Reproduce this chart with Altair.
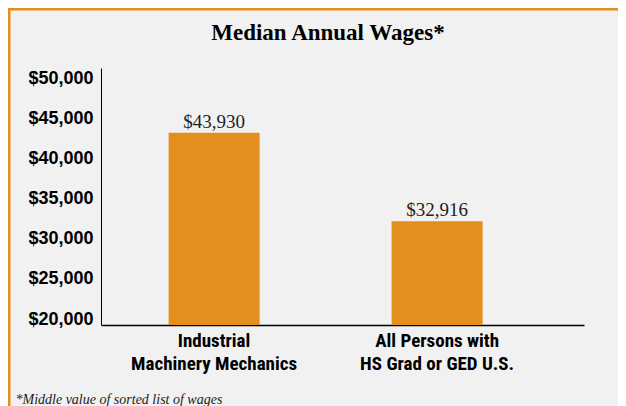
import altair as alt
import pandas as pd

title_text = ["Median Annual Wages*"]
categories = ["Industrial\nMachinery Mechanics", "All Persons with\nHS Grad or GED U.S."]
wages = [43930, 32916]
y_ticks = [20000, 25000, 30000, 35000, 40000, 45000, 50000]

df = pd.DataFrame({"category": categories, "wage": wages})

ORANGE = "#e38e1d"
BG = "#f1f1f1"
SERIF = "Liberation Serif"
NARROW = "Liberation Sans Narrow, Arial Narrow, Roboto Condensed, Liberation Sans, sans-serif"
SANS = "Liberation Sans, Arial, sans-serif"

x = alt.X(
    "category:N",
    sort=categories,
    scale=alt.Scale(paddingInner=0.592, paddingOuter=0.379, align=0.4),
    axis=alt.Axis(
        title="*Middle value of sorted list of wages",
        labelExpr="split(datum.label, '\\n')",
        labelAngle=0,
        ticks=False,
        labelFont=NARROW,
        labelFontSize=19,
        labelFontWeight="bold",
        labelLineHeight=23,
        labelPadding=6,
        labelColor="black",
        domainColor="black",
        domainWidth=1.5,
        titleFont=SERIF,
        titleFontStyle="italic",
        titleFontWeight="normal",
        titleFontSize=14,
        titleAnchor="start",
        titleAlign="left",
        titleX=-86,
        titleY=78,
        titleBaseline="alphabetic",
        titleColor="#222222",
    ),
)

y = alt.Y(
    "wage:Q",
    scale=alt.Scale(domain=[20000, 52000], nice=False, zero=False),
    axis=alt.Axis(
        values=y_ticks,
        format="$,d",
        title=None,
        ticks=False,
        grid=False,
        labelFont=SANS,
        labelFontWeight="bold",
        labelFontSize=18,
        labelColor="black",
        labelPadding=8,
        labelOffset=-6,
        domainColor="black",
        domainWidth=1,
    ),
)

base = alt.Chart(df)
bars = base.mark_bar(color=ORANGE, clip=True).encode(x=x, y=y)
labels = base.mark_text(
    baseline="alphabetic", dy=-5, font=SERIF, fontSize=19, color="#222222"
).encode(x=x, y=y, text=alt.Text("wage:Q", format="$,d"))

title = alt.Chart(pd.DataFrame({"t": title_text})).mark_text(
    font=SERIF, fontSize=23, fontWeight="bold", color="black",
    align="center", baseline="alphabetic",
).encode(x=alt.value(227), y=alt.value(-28), text="t:N")

frame = alt.Data(values=[{}])
left_border = alt.Chart(frame).mark_rule(color=ORANGE, strokeWidth=2.5).encode(
    x=alt.value(-91.75), y=alt.value(-60), y2=alt.value(338)
)
top_border = alt.Chart(frame).mark_rule(color=ORANGE, strokeWidth=2.5).encode(
    x=alt.value(-93), x2=alt.value(517), y=alt.value(-58.75)
)

chart = (
    alt.layer(bars, labels, title, left_border, top_border)
    .properties(
        width=483,
        height=257,
        autosize=alt.AutoSizeParams(type="none"),
        padding={"left": 93, "top": 60, "right": 34, "bottom": 81},
        background=BG,
    )
    .configure_view(stroke=None)
)

chart.save("out.html", embed_options={"renderer": "svg", "actions": False})
